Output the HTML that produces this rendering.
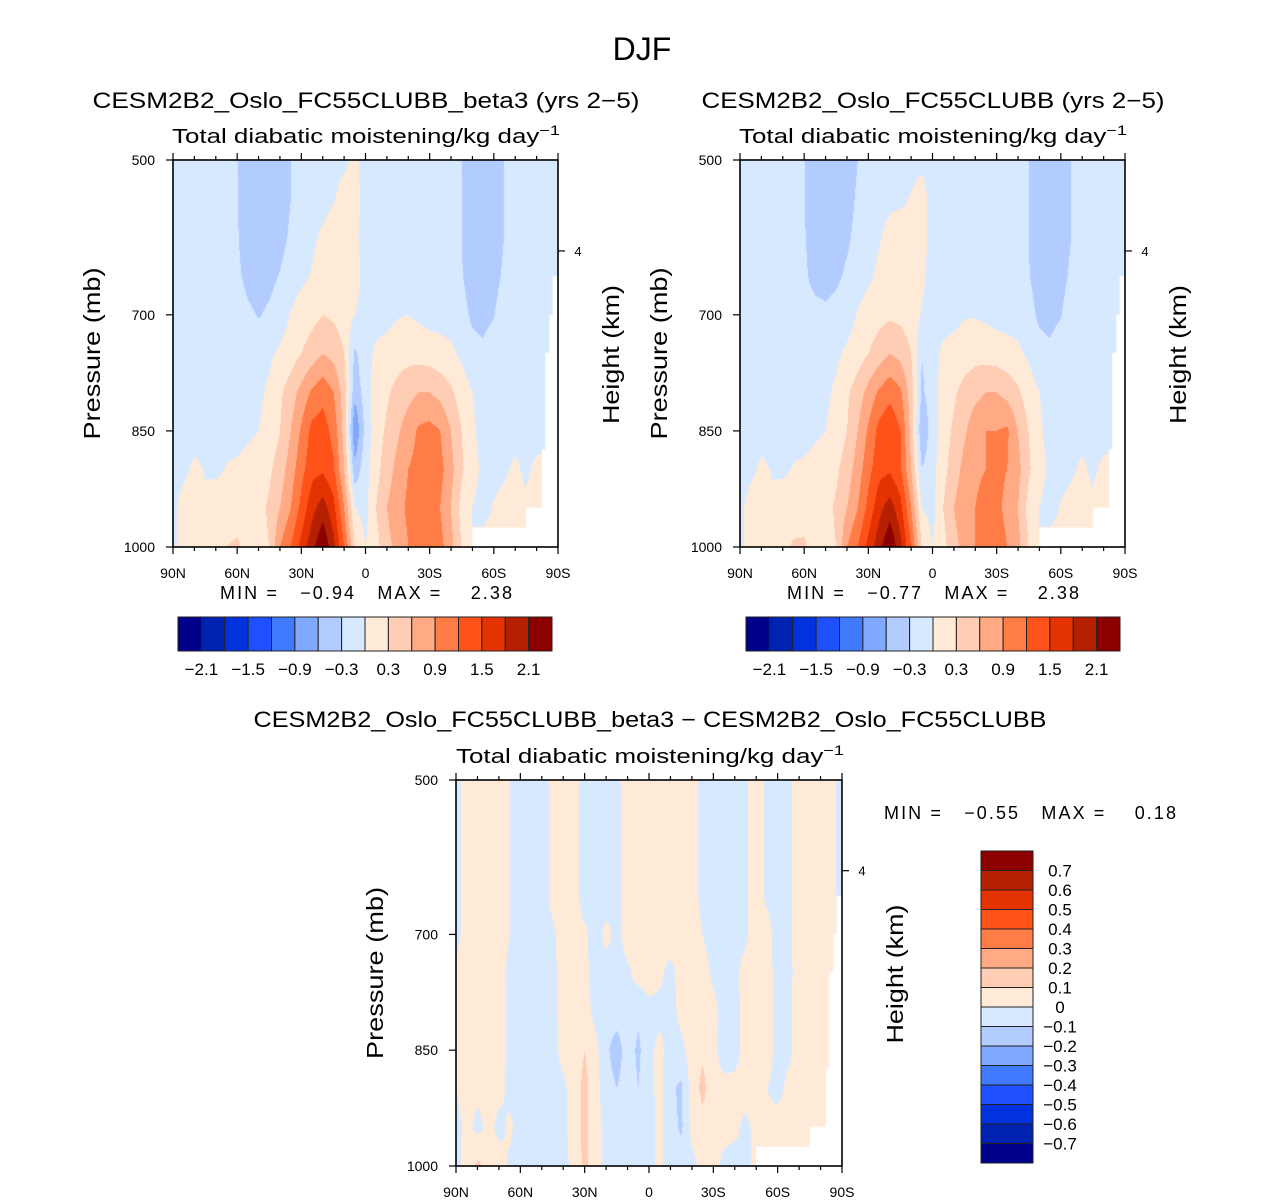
<!DOCTYPE html>
<html><head><meta charset="utf-8">
<style>
html,body{margin:0;padding:0;background:#fff;}
#wrap{position:relative;width:1285px;height:1204px;overflow:hidden;font-family:"Liberation Sans",sans-serif;}
canvas{position:absolute;}
svg{position:absolute;left:0;top:0;}
</style></head>
<body>
<div id="wrap">
<canvas id="c1" width="385" height="387" style="left:173px;top:160px"></canvas>
<canvas id="c2" width="385" height="387" style="left:740px;top:160px"></canvas>
<canvas id="c3" width="386" height="386" style="left:456px;top:780px"></canvas>
<svg id="ov" width="1285" height="1204"></svg>
</div>
<script>
// ---- data: 37 latitudes (90N..90S step 5) x 11 pressure levels (500..1000 step 50)
const lats = [];
for (let j = 0; j <= 36; j++) lats.push(90 - 5 * j);
const pressures = [500,550,600,650,700,750,800,850,900,950,1000];
const fieldBeta3 = [
[-0.1,-0.1,-0.1,-0.1,-0.1,-0.15, -0.3,-0.45,-0.45,-0.45,-0.45,-0.3, -0.12,-0.1,-0.1,-0.08,-0.05,0.05, -0.1, -0.1,-0.1,-0.1,-0.1,-0.1,-0.1, -0.1,-0.15,-0.3,-0.45,-0.45,-0.45, -0.3,-0.1,-0.1,-0.1,-0.1,-0.1],
[-0.1,-0.1,-0.1,-0.1,-0.1,-0.15, -0.3,-0.45,-0.45,-0.45,-0.45,-0.3, -0.12,-0.1,-0.1,-0.02,0.1,0.1, -0.1, -0.1,-0.1,-0.1,-0.1,-0.1,-0.1, -0.1,-0.15,-0.3,-0.45,-0.45,-0.45, -0.3,-0.1,-0.1,-0.1,-0.1,-0.1],
[-0.1,-0.1,-0.1,-0.1,-0.1,-0.15, -0.28,-0.45,-0.45,-0.45,-0.4,-0.25, -0.1,-0.05,0.05,0.15,0.15,0.05, -0.1, -0.1,-0.1,-0.1,-0.1,-0.1,-0.1, -0.1,-0.15,-0.3,-0.45,-0.45,-0.45, -0.3,-0.1,-0.1,-0.1,-0.1,-0.1],
[-0.1,-0.1,-0.1,-0.1,-0.1,-0.12, -0.25,-0.38,-0.42,-0.38,-0.28,-0.15, -0.05,0.02,0.15,0.2,0.2,0.1, -0.1, -0.1,-0.1,-0.1,-0.1,-0.1,-0.1, -0.1,-0.12,-0.28,-0.42,-0.42,-0.4, -0.25,-0.1,-0.1,-0.1,-0.1,-0.1],
[-0.1,-0.1,-0.1,-0.1,-0.1,-0.1, -0.15,-0.25,-0.32,-0.25,-0.15,0.02, 0.12,0.2,0.3,0.25,0.15,0.0, -0.1, -0.1,-0.08,-0.02,0.0,-0.05,-0.1, -0.1,-0.1,-0.2,-0.35,-0.38,-0.32, -0.15,-0.1,-0.1,-0.1,-0.1,-0.1],
[-0.1,-0.1,-0.1,-0.1,-0.1,-0.1, -0.1,-0.1,-0.1,-0.05,0.05,0.15, 0.3,0.45,0.6,0.5,0.3,-0.35, -0.1, 0.05,0.1,0.15,0.2,0.18,0.15, 0.1,0.05,-0.05,-0.2,-0.25,-0.15, -0.1,-0.1,-0.1,-0.1,-0.1,-0.1],
[-0.1,-0.1,-0.1,-0.1,-0.1,-0.1, -0.1,-0.1,-0.05,0.05,0.25,0.45, 0.7,0.95,1.1,0.9,0.45,-0.5, -0.15, 0.15,0.25,0.4,0.5,0.6,0.6, 0.5,0.35,0.15,0.0,-0.1,-0.1, -0.1,-0.1,-0.1,-0.1,-0.1,-0.1],
[-0.1,-0.1,-0.1,-0.1,-0.1,-0.1, -0.1,-0.05,0.0,0.1,0.3,0.6, 0.95,1.3,1.35,1.1,0.5,-0.9, -0.2, 0.15,0.35,0.55,0.75,0.95,1.0, 0.9,0.6,0.3,0.05,-0.1,-0.1, -0.1,-0.1,-0.05,-0.1,-0.1,-0.1],
[-0.1,-0.05,0.05,-0.02,-0.05,0.02, 0.05,0.1,0.15,0.25,0.45,0.75, 1.1,1.4,1.45,1.25,0.6,-0.5, -0.1, 0.2,0.45,0.7,0.9,1.0,1.05, 1.0,0.7,0.35,0.1,-0.05,-0.1, -0.05,0.05,-0.05,0.05,0.1,0.1],
[-0.05,0.1,0.1,0.05,0.15,0.1, 0.15,0.15,0.2,0.35,0.6,0.9, 1.3,1.7,1.95,1.6,0.9,0.0, -0.1, 0.3,0.6,0.8,0.95,1.0,1.0, 0.9,0.6,0.2,0.0,-0.1,0.02, 0.1,0.15,0.05,0.1,0.1,0.1],
[-0.05,0.1,0.15,0.15,0.2,0.3, 0.35,0.15,0.2,0.3,0.9,1.2, 1.6,2.0,2.38,1.9,1.2,0.3, 0.0, 0.2,0.5,0.7,0.9,1.05,1.1, 1.0,0.7,0.3,0.0,0.1,0.1, 0.1,0.1,0.1,0.1,0.1,0.1]
];
const fieldControl = [
[-0.1,-0.1,-0.1,-0.1,-0.1,-0.15, -0.3,-0.45,-0.45,-0.45,-0.45,-0.3, -0.12,-0.1,-0.1,-0.08,-0.08,-0.05, -0.1, -0.1,-0.1,-0.1,-0.1,-0.1,-0.1, -0.1,-0.15,-0.3,-0.45,-0.45,-0.45, -0.3,-0.1,-0.1,-0.1,-0.1,-0.1],
[-0.1,-0.1,-0.1,-0.1,-0.1,-0.15, -0.3,-0.45,-0.45,-0.45,-0.42,-0.25, -0.12,-0.1,-0.05,-0.05,0.02,0.1, -0.1, -0.1,-0.1,-0.1,-0.1,-0.1,-0.1, -0.1,-0.15,-0.3,-0.45,-0.45,-0.45, -0.3,-0.1,-0.1,-0.1,-0.1,-0.1],
[-0.1,-0.1,-0.1,-0.1,-0.1,-0.15, -0.28,-0.45,-0.45,-0.42,-0.35,-0.2, -0.1,-0.02,0.08,0.15,0.05,0.1, -0.1, -0.1,-0.1,-0.1,-0.1,-0.1,-0.1, -0.1,-0.15,-0.3,-0.45,-0.45,-0.45, -0.3,-0.1,-0.1,-0.1,-0.1,-0.1],
[-0.1,-0.1,-0.1,-0.1,-0.1,-0.12, -0.25,-0.4,-0.4,-0.35,-0.25,-0.12, -0.05,0.05,0.15,0.2,0.1,0.05, -0.1, -0.1,-0.1,-0.1,-0.1,-0.1,-0.1, -0.1,-0.12,-0.28,-0.42,-0.42,-0.4, -0.25,-0.1,-0.1,-0.1,-0.1,-0.1],
[-0.1,-0.1,-0.1,-0.1,-0.1,-0.1, -0.15,-0.2,-0.25,-0.2,-0.12,0.02, 0.12,0.2,0.25,0.22,0.15,-0.02, -0.1, -0.1,-0.08,-0.02,-0.02,-0.05,-0.1, -0.1,-0.1,-0.2,-0.35,-0.38,-0.32, -0.15,-0.1,-0.1,-0.1,-0.1,-0.1],
[-0.1,-0.1,-0.1,-0.1,-0.1,-0.1, -0.1,-0.1,-0.1,-0.05,0.05,0.15, 0.3,0.45,0.6,0.5,0.3,-0.3, -0.1, 0.05,0.1,0.15,0.2,0.18,0.15, 0.1,0.05,-0.05,-0.2,-0.25,-0.15, -0.1,-0.1,-0.1,-0.1,-0.1,-0.1],
[-0.1,-0.1,-0.1,-0.1,-0.1,-0.1, -0.1,-0.1,-0.05,0.05,0.25,0.45, 0.7,0.95,1.1,0.95,0.45,-0.35, -0.15, 0.15,0.25,0.4,0.5,0.6,0.6, 0.5,0.35,0.15,0.0,-0.1,-0.1, -0.1,-0.1,-0.1,-0.1,-0.1,-0.1],
[-0.1,-0.1,-0.1,-0.1,-0.1,-0.1, -0.1,-0.05,0.0,0.1,0.3,0.6, 0.95,1.3,1.45,1.2,0.5,-0.55, -0.15, 0.15,0.35,0.55,0.8,0.9,0.9, 0.95,0.6,0.3,0.05,-0.1,-0.1, -0.1,-0.1,-0.05,-0.1,-0.1,-0.1],
[-0.1,-0.05,0.05,-0.02,-0.05,0.02, 0.05,0.1,0.15,0.25,0.45,0.75, 1.1,1.4,1.45,1.25,0.6,-0.3, -0.1, 0.2,0.45,0.7,0.85,0.9,0.95, 0.9,0.7,0.35,0.1,-0.05,-0.1, -0.05,0.05,-0.05,0.05,0.1,0.1],
[-0.05,0.1,0.1,0.05,0.15,0.1, 0.15,0.15,0.2,0.35,0.6,0.9, 1.3,1.7,1.95,1.6,0.9,0.0, -0.1, 0.3,0.6,0.8,0.9,1.0,0.95, 0.85,0.6,0.2,0.0,-0.1,0.02, 0.1,0.15,0.05,0.2,0.1,0.1],
[-0.05,0.1,0.15,0.3,0.2,0.35, 0.35,0.15,0.2,0.3,0.9,1.2, 1.6,2.0,2.38,1.9,1.2,0.3, 0.0, 0.2,0.5,0.7,0.9,1.05,1.0, 0.9,0.7,0.3,0.0,0.1,0.1, 0.1,0.1,0.1,0.1,0.1,0.1]
];
const topDiff = [-0.03,0.05,0.05,0.05,0.05,0.0,-0.05,-0.05,-0.05,0.03,0.05,0.04,-0.05,-0.05,-0.05,-0.03,0.05,0.05,0.03,0.02,0.05,0.05,0.05,-0.03,-0.05,-0.03,-0.05,-0.02,0.05,-0.02,-0.05,-0.03,0.05,0.05,0.05,0.03,-0.03];
const fieldDiff = [
topDiff, topDiff, topDiff, topDiff,
[-0.03,0.05,0.05,0.05,0.05,0.0,-0.05,-0.05,-0.05,-0.02,0.05,0.05,0.02,-0.05,0.03,-0.03,0.05,0.05,0.05,0.03,0.05,0.05,0.05,0.0,-0.05,-0.03,-0.03,-0.02,0.05,0.05,-0.05,-0.03,0.05,0.05,0.05,0.03,-0.03],
[0.02,0.05,0.05,0.05,0.04,-0.03,-0.05,-0.05,-0.05,-0.03,0.05,0.05,0.03,-0.05,-0.04,-0.05,-0.02,0.04,0.05,0.02,-0.03,0.04,0.05,0.05,-0.02,-0.04,-0.02,0.03,0.05,0.05,-0.04,-0.03,0.04,0.05,0.04,0.03,0.0],
[0.02,0.05,0.05,0.05,0.05,-0.03,-0.05,-0.05,-0.05,-0.03,0.04,0.05,0.04,-0.03,-0.05,-0.05,-0.04,-0.08,-0.03,-0.03,-0.04,0.03,0.05,0.05,0.03,-0.04,-0.03,0.03,0.05,0.05,-0.03,-0.02,0.04,0.04,0.04,0.03,0.0],
[0.03,0.05,0.05,0.05,0.05,-0.03,-0.05,-0.05,-0.05,-0.03,0.03,0.05,0.1,0.03,-0.08,-0.15,-0.05,-0.12,-0.03,0.03,-0.05,-0.03,0.05,0.08,0.03,-0.05,-0.05,0.04,0.05,0.05,-0.03,-0.02,0.03,0.03,0.02,0.03,0.0],
[0.0,0.05,0.03,0.05,0.03,-0.03,-0.05,-0.05,-0.05,-0.03,-0.02,0.05,0.13,0.04,-0.06,-0.1,-0.05,-0.1,-0.03,0.03,-0.08,-0.12,0.04,0.13,0.05,0.03,0.04,0.05,0.05,0.0,-0.03,0.02,0.03,0.04,0.03,0.03,0.0],
[-0.03,0.03,-0.03,0.03,-0.03,0.02,-0.05,-0.05,-0.05,-0.03,-0.02,0.04,0.13,0.04,-0.03,-0.05,-0.03,-0.05,-0.03,0.02,-0.05,-0.12,0.03,0.06,0.05,0.04,0.03,-0.03,0.03,0.03,0.04,0.03,0.03,0.02,0.02,0.02,0.0],
[-0.03,0.05,0.12,0.06,0.05,-0.02,-0.05,-0.03,-0.04,-0.03,-0.03,0.03,0.13,0.04,-0.03,-0.03,-0.05,-0.05,-0.03,0.02,-0.04,-0.04,-0.03,0.03,0.04,-0.03,-0.05,0.0,0.0,0.0,0.0,0.0,0.0,0.0,0.0,0.0,0.0]
];
// missing-data (below surface) mask: from maskLat southward, pressures below maskP are blank
const maskLat = [-50,-75,-82.5,-84,-86,-87.5];
const maskP = [975,949,874,749,700,650];
const colors = ['#00008C','#0022B0','#0033DD','#1E50FF','#3F7AFF','#80A8FF','#B3CCFF','#D7E9FF','#FFEAD8','#FFCDB3','#FFAA84','#FF7C46','#FF5219','#E43300','#B52100','#8C0000'];
const labelsMain = ['−2.1','−1.5','−0.9','−0.3','0.3','0.9','1.5','2.1'];
const labelsDiff = ['0.7','0.6','0.5','0.4','0.3','0.2','0.1','0','−0.1','−0.2','−0.3','−0.4','−0.5','−0.6','−0.7'];
const latTicks = [90,60,30,0,-30,-60,-90];
const latTickLabels = ['90N','60N','30N','0','30S','60S','90S'];
const pTicks = [500,700,850,1000];

function hex(c){return [parseInt(c.slice(1,3),16),parseInt(c.slice(3,5),16),parseInt(c.slice(5,7),16)];}
const rgb = colors.map(hex);

function fillCanvas(id, field, base, step){
  const cv = document.getElementById(id), ctx = cv.getContext('2d');
  const W = cv.width, H = cv.height, img = ctx.createImageData(W,H);
  const nx = lats.length-1, ny = pressures.length-1;
  for (let py=0; py<H; py++){
    const fy = py/(H-1)*ny, iy = Math.min(Math.floor(fy), ny-1), ty = fy-iy;
    for (let px=0; px<W; px++){
      const fx = px/(W-1)*nx, ix = Math.min(Math.floor(fx), nx-1), tx = fx-ix;
      const v = (field[iy][ix]*(1-tx)+field[iy][ix+1]*tx)*(1-ty) + (field[iy+1][ix]*(1-tx)+field[iy+1][ix+1]*tx)*ty;
      let k = Math.floor((v-base)/step); k = Math.max(0, Math.min(15, k));
      const o = (py*W+px)*4, c = rgb[k];
      img.data[o]=c[0]; img.data[o+1]=c[1]; img.data[o+2]=c[2]; img.data[o+3]=255;
    }
  }
  ctx.putImageData(img,0,0);
  ctx.fillStyle = '#fff';
  for (let m=0; m<maskLat.length; m++){
    const x0 = (90-maskLat[m])/180*W, y0 = (maskP[m]-500)/500*H;
    ctx.fillRect(x0, y0, W-x0, H-y0);
  }
}
fillCanvas('c1', fieldBeta3, -2.4, 0.3);
fillCanvas('c2', fieldControl, -2.4, 0.3);
fillCanvas('c3', fieldDiff, -0.8, 0.1);

// ---- SVG annotation
const NS = 'http://www.w3.org/2000/svg';
const svg = document.getElementById('ov');
function el(tag, attrs, parent){
  const e = document.createElementNS(NS, tag);
  for (const k in attrs) e.setAttribute(k, attrs[k]);
  (parent||svg).appendChild(e); return e;
}
function txt(s, x, y, size, anchor, parent, rot, len){
  const t = el('text', {x:x, y:y, 'font-size':size, 'text-anchor':anchor||'middle', 'font-family':'Liberation Sans, sans-serif', fill:'#000'}, parent);
  if (rot) t.setAttribute('transform', 'rotate(-90 '+x+' '+y+')');
  if (len){ t.setAttribute('textLength', len); t.setAttribute('lengthAdjust', 'spacingAndGlyphs'); }
  t.textContent = s; return t;
}
function subtitle(cx, y, parent){
  const t = el('text', {x:cx, y:y, 'font-size':20, 'text-anchor':'middle', 'font-family':'Liberation Sans, sans-serif', textLength:388, lengthAdjust:'spacingAndGlyphs'}, parent);
  t.appendChild(document.createTextNode('Total diabatic moistening/kg day'));
  const s = el('tspan', {dy:-8, 'font-size':14}, t); s.textContent = '−1';
  return t;
}
function axes(name, x0, y0, W, H, titleStr, titleX, titleLen, subX){
  const g = el('g', {});
  
  
  if (titleStr){ const t = txt(titleStr, titleX, 108, 22, 'middle', g, false, titleLen);   }
  const st = subtitle(subX, y0-17, g);
  
  
  el('rect', {x:x0, y:y0, width:W, height:H, fill:'none', stroke:'#000', 'stroke-width':1.6}, g);
  const xs = lat => x0 + (90-lat)/180*W;
  const ys = p => y0 + (p-500)/500*H;
  for (let lat=90; lat>=-90; lat-=10){
    const major = lat%30===0, L = major?7:4;
    el('line', {x1:xs(lat), x2:xs(lat), y1:y0+H, y2:y0+H+L, stroke:'#000', 'stroke-width':1.2}, g);
    el('line', {x1:xs(lat), x2:xs(lat), y1:y0, y2:y0-L, stroke:'#000', 'stroke-width':1.2}, g);
  }
  latTicks.forEach((lat,i)=>{
    const t = txt(latTickLabels[i], xs(lat), y0+H+31, 14, 'middle', g);
     
  });
  pTicks.forEach(p=>{
    el('line', {x1:x0, x2:x0-7, y1:ys(p), y2:ys(p), stroke:'#000', 'stroke-width':1.2}, g);
    const t = txt(String(p), x0-18, ys(p)+5, 14, 'end', g);
     
  });
  const y4 = y0 + H*0.235;
  el('line', {x1:x0+W, x2:x0+W+7, y1:y4, y2:y4, stroke:'#000', 'stroke-width':1.2}, g);
  const t4 = txt('4', x0+W+20, y4+5, 13, 'middle', g);
   
  const yl = txt('Pressure (mb)', x0-73, y0+H/2, 23, 'middle', g, true, 172);
   
  const hl = txt('Height (km)', x0+W+61, y0+H/2+1, 23, 'middle', g, true, 139);
   
}
const djf = txt('DJF', 642, 60, 32, 'middle');


axes('panel-beta3-axes', 173, 160, 385, 387, 'CESM2B2_Oslo_FC55CLUBB_beta3 (yrs 2−5)', 366, 547, 366);
axes('panel-control-axes', 740, 160, 385, 387, 'CESM2B2_Oslo_FC55CLUBB (yrs 2−5)', 933, 463, 933);
axes('panel-diff-axes', 456, 780, 386, 386, null, 0, 0, 650);
const t3 = txt('CESM2B2_Oslo_FC55CLUBB_beta3 − CESM2B2_Oslo_FC55CLUBB', 650, 727, 22, 'middle', null, false, 793);



function minmax(s, x, y){
  const t = el('text', {x:x, y:y, 'font-size':18, 'font-family':'Liberation Sans, sans-serif', style:'white-space:pre', textLength:292, lengthAdjust:'spacing'});
  t.textContent = s;
  
  
}
minmax('MIN =   −0.94   MAX =    2.38', 220, 599);
minmax('MIN =   −0.77   MAX =    2.38', 787, 599);
minmax('MIN =   −0.55   MAX =    0.18', 884, 819);

function hbar(x0, name){
  const g = el('g', {});
  
  
  const w = 374/16;
  colors.forEach((c,i)=>{
    const r = el('rect', {x:x0+i*w, y:617, width:w, height:34, fill:c, stroke:'#222', 'stroke-width':1}, g);
    
    
  });
  labelsMain.forEach((s,i)=>{
    const t = txt(s, x0+(2*i+1)*w, 675, 17, 'middle', g);
     
  });
}
hbar(178, 'colorbar-beta3');
hbar(746, 'colorbar-control');

const vg = el('g', {});


const vh = 312/16;
colors.slice().reverse().forEach((c,i)=>{
  const r = el('rect', {x:981, y:851+i*vh, width:52, height:vh, fill:c, stroke:'#222', 'stroke-width':1}, vg);
  
  
});
labelsDiff.forEach((s,i)=>{
  const t = txt(s, 1060, 851+(i+1)*vh+6, 17, 'middle', vg);
   
});
</script>
</body></html>
